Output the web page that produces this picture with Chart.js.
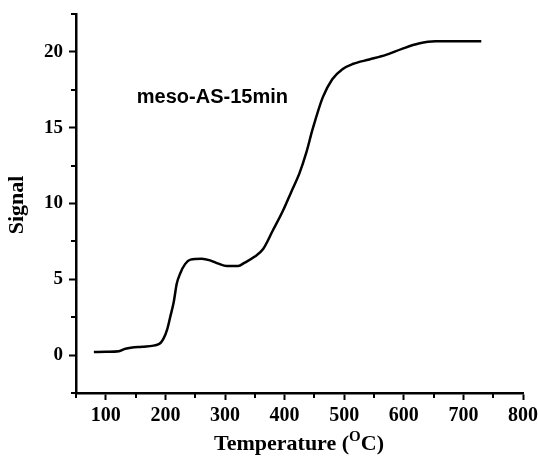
<!DOCTYPE html>
<html>
<head>
<meta charset="utf-8">
<script src="https://cdn.jsdelivr.net/npm/chart.js@4.4.1/dist/chart.umd.min.js"></script>
<style>
  html, body { margin: 0; padding: 0; background: #fff; }
  #wrap { width: 538px; height: 461px; }
</style>
</head>
<body>
<div id="wrap"><canvas id="myChart"></canvas></div>
<script>
// data
var temperature = [80, 100, 122, 133, 161, 189, 197, 203, 208, 214, 219, 225, 233, 242, 261, 275, 289, 303, 322, 333, 350, 364, 380, 397, 411, 425, 436, 447, 464, 480, 497, 514, 542, 570, 597, 625, 653, 686, 730];
var signal = [0.20, 0.22, 0.26, 0.42, 0.55, 0.72, 1.1, 1.7, 2.5, 3.5, 4.7, 5.4, 6.0, 6.3, 6.36, 6.25, 6.03, 5.88, 5.88, 6.1, 6.5, 7.0, 8.2, 9.5, 10.75, 12.0, 13.3, 14.9, 17.0, 18.2, 18.86, 19.2, 19.5, 19.8, 20.2, 20.55, 20.7, 20.7, 20.7];

var xTicks = [100, 200, 300, 400, 500, 600, 700, 800];
var yTicks = [0, 5, 10, 15, 20];
var xMinor = [50, 150, 250, 350, 450, 550, 650, 750];
var yMinor = [-2.5, 2.5, 7.5, 12.5, 17.5, 22.5];
var sampleName = 'meso-AS-15min';

var points = [];
for (var i = 0; i < temperature.length; i++) {
    points.push({ x: temperature[i], y: signal[i] });
}

var serif = '"Liberation Serif", "Times New Roman", serif';

// minor ticks, axis titles and the sample label
var extras = {
    id: 'extras',
    afterDraw: function (chart) {
        var c = chart.ctx;
        var area = chart.chartArea;
        var sx = chart.scales.x, sy = chart.scales.y;
        c.save();
        c.strokeStyle = '#000';
        c.lineWidth = 2;
        xMinor.forEach(function (v) {
            var p = Math.round(sx.getPixelForValue(v));
            c.beginPath();
            c.moveTo(p, area.bottom);
            c.lineTo(p, area.bottom + 5);
            c.stroke();
        });
        yMinor.forEach(function (v) {
            var p = Math.round(sy.getPixelForValue(v));
            c.beginPath();
            c.moveTo(area.left, p);
            c.lineTo(area.left - 5, p);
            c.stroke();
        });

        c.fillStyle = '#000';
        // y title
        c.save();
        c.translate(23, 205);
        c.rotate(-Math.PI / 2);
        c.font = 'bold 22px ' + serif;
        c.textAlign = 'center';
        c.textBaseline = 'alphabetic';
        c.fillText('Signal', 0, 0);
        c.restore();

        // x title with superscript O
        var t1 = 'Temperature (', t2 = 'O', t3 = 'C)';
        c.font = 'bold 22px ' + serif;
        var w1 = c.measureText(t1).width, w3 = c.measureText(t3).width;
        c.font = 'bold 15px ' + serif;
        var w2 = c.measureText(t2).width;
        var total = w1 + w2 + w3;
        var x0 = 299 - total / 2;
        var base = 450;
        c.textAlign = 'left';
        c.textBaseline = 'alphabetic';
        c.font = 'bold 22px ' + serif;
        c.fillText(t1, x0, base);
        c.font = 'bold 15px ' + serif;
        c.fillText(t2, x0 + w1, base - 9);
        c.font = 'bold 22px ' + serif;
        c.fillText(t3, x0 + w1 + w2, base);

        // sample label
        c.font = 'bold 20px "Liberation Sans", Arial, sans-serif';
        c.fillText(sampleName, sx.getPixelForValue(152), sy.getPixelForValue(16.6));
        c.restore();
    }
};

var ctx = document.getElementById('myChart').getContext('2d');
var chart = new Chart(ctx, {
    type: 'line',
    data: {
        datasets: [{
            label: sampleName,
            data: points,
            borderColor: '#000',
            borderWidth: 2.5,
            pointRadius: 0,
            fill: false,
            cubicInterpolationMode: 'monotone'
        }]
    },
    options: {
        responsive: true,
        maintainAspectRatio: false,
        animation: false,
        layout: { padding: { top: 14, right: 15, left: 0, bottom: 0 } },
        plugins: {
            legend: { display: false },
            tooltip: { enabled: false }
        },
        scales: {
            x: {
                type: 'linear',
                min: 50,
                max: 800,
                afterBuildTicks: function (scale) {
                    scale.ticks = xTicks.map(function (v) { return { value: v }; });
                },
                afterFit: function (scale) {
                    scale.height = 68;
                    scale.paddingLeft = 0;
                    scale.paddingRight = 0;
                },
                border: { display: true, color: '#000', width: 2.5 },
                grid: { drawOnChartArea: false, drawTicks: true, tickLength: 7, tickWidth: 2, tickColor: '#000' },
                ticks: {
                    color: '#000',
                    padding: 4,
                    maxRotation: 0,
                    autoSkip: false,
                    font: { family: serif, size: 20, weight: 'bold' }
                }
            },
            y: {
                min: -2.5,
                max: 22.5,
                afterBuildTicks: function (scale) {
                    scale.ticks = yTicks.map(function (v) { return { value: v }; });
                },
                afterFit: function (scale) {
                    scale.width = 76;
                    scale.paddingTop = 0;
                    scale.paddingBottom = 0;
                },
                border: { display: true, color: '#000', width: 2.5 },
                grid: { drawOnChartArea: false, drawTicks: true, tickLength: 7, tickWidth: 2, tickColor: '#000' },
                ticks: {
                    color: '#000',
                    padding: 6,
                    autoSkip: false,
                    font: { family: serif, size: 19, weight: 'bold' }
                }
            }
        }
    },
    plugins: [extras]
});
</script>
</body>
</html>
